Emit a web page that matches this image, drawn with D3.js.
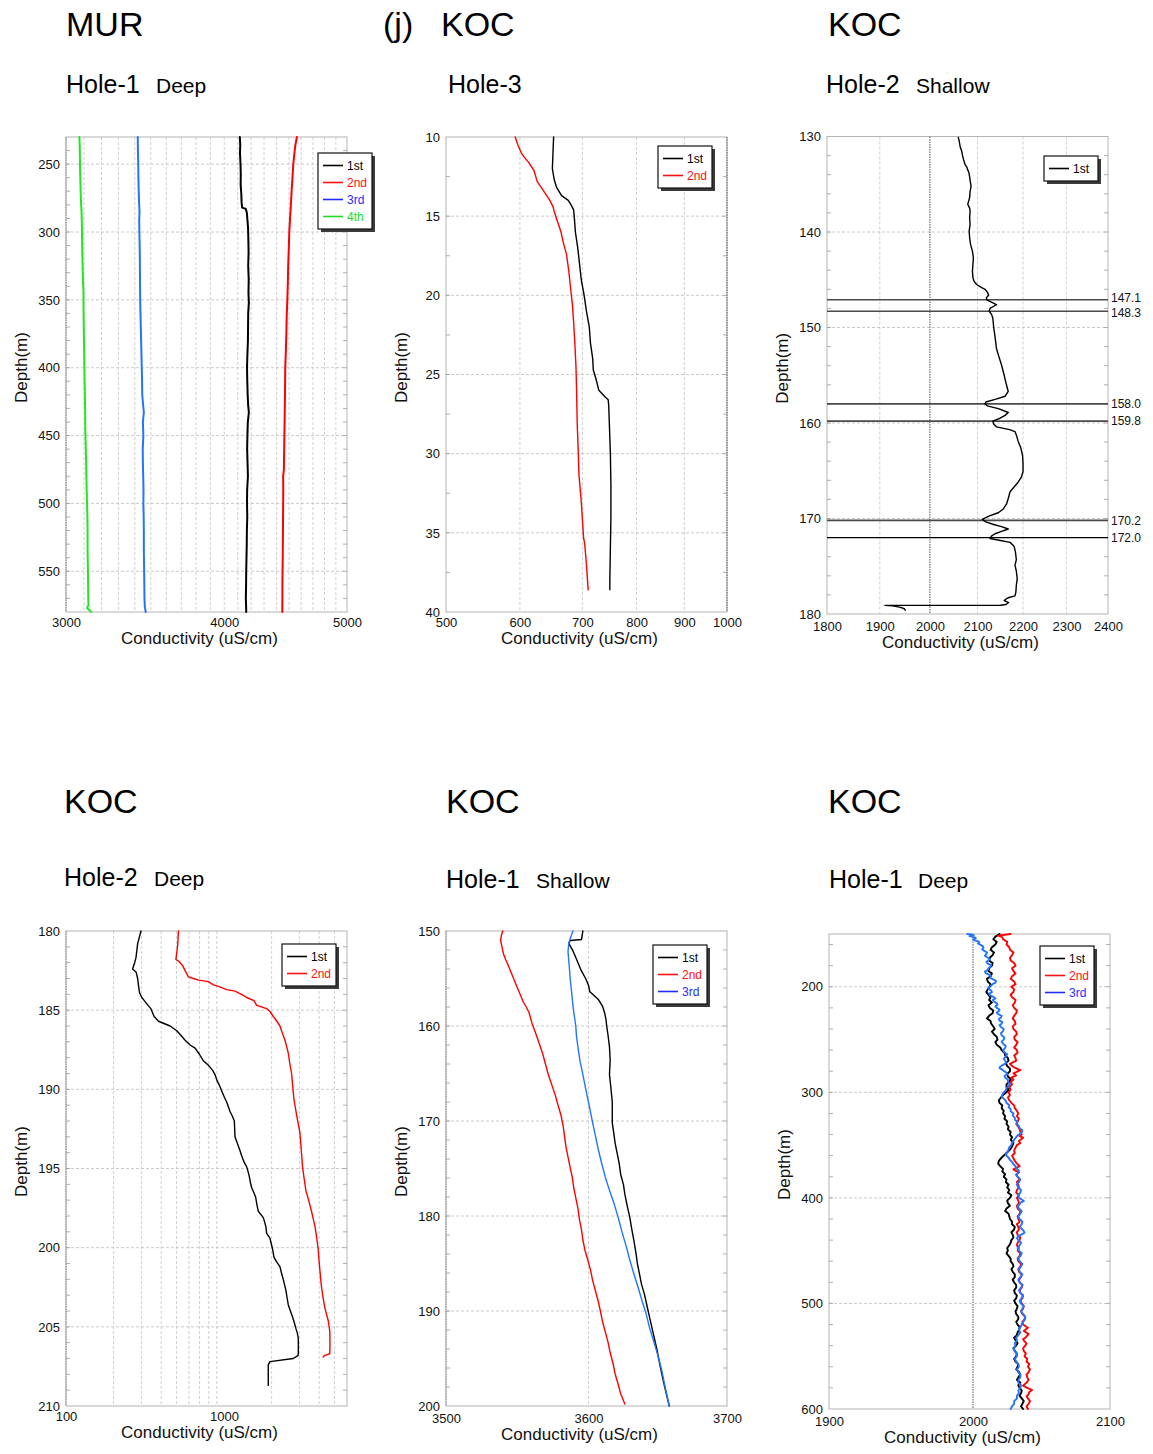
<!DOCTYPE html>
<html>
<head>
<meta charset="utf-8">
<script src="https://cdn.jsdelivr.net/npm/d3@7"></script>
<style>
  body { margin: 0; background: #fff; }
  svg { display: block; }
  text { font-family: "Liberation Sans", Arial, Helvetica, sans-serif; }
</style>
</head>
<body>
<svg id="fig" width="1153" height="1454"></svg>
<script>
// ---------- Conductivity profiles: [depth (m), conductivity (uS/cm)] ----------

// MUR Hole-1 Deep
const murDeep1st = [[230,4115],[236,4118],[242,4116],[250,4120],[258,4122],[265,4121],[272,4126],[278,4128],[282,4132],[283,4160],[286,4168],[291,4172],[297,4177],[305,4179],[315,4181],[325,4178],[335,4182],[345,4180],[352,4183],[360,4178],[370,4177],[380,4176],[390,4172],[400,4169],[410,4171],[420,4174],[428,4178],[433,4183],[440,4175],[450,4172],[460,4170],[470,4173],[480,4176],[490,4170],[500,4169],[510,4171],[520,4168],[530,4167],[540,4165],[550,4163],[560,4162],[570,4160],[575,4162],[580,4163]];
const murDeep2nd = [[230,4565],[236,4552],[242,4544],[250,4535],[260,4528],[270,4521],[280,4515],[290,4508],[300,4502],[312,4498],[325,4493],[338,4490],[350,4486],[362,4481],[375,4478],[388,4474],[400,4469],[412,4468],[425,4466],[438,4464],[450,4462],[462,4460],[475,4458],[480,4452],[490,4453],[500,4452],[512,4451],[525,4450],[538,4449],[550,4447],[560,4446],[570,4446],[580,4445]];
const murDeep3rd = [[230,3418],[240,3419],[250,3421],[260,3422],[270,3424],[278,3426],[285,3429],[292,3427],[300,3428],[310,3430],[320,3431],[335,3432],[350,3433],[360,3435],[370,3437],[385,3440],[400,3443],[410,3445],[420,3446],[428,3452],[433,3456],[440,3450],[450,3453],[460,3449],[470,3450],[480,3452],[490,3454],[500,3453],[510,3455],[520,3456],[535,3456],[550,3458],[560,3459],[570,3460],[576,3462],[580,3468]];
const murDeep4th = [[230,3074],[238,3076],[246,3077],[255,3078],[265,3080],[275,3082],[285,3086],[295,3088],[305,3089],[315,3090],[325,3092],[335,3094],[345,3097],[355,3097],[365,3098],[375,3099],[390,3101],[400,3102],[415,3104],[430,3106],[445,3107],[460,3110],[470,3112],[480,3113],[490,3115],[500,3117],[510,3119],[520,3120],[535,3120],[550,3122],[560,3123],[570,3124],[575,3125],[577,3117],[579,3134],[580,3140]];

// KOC Hole-3
const kocH3_1st = [[10,652],[11,651],[12,650],[12.7,653],[13.2,657],[13.7,665],[14.0,676],[14.3,681],[14.6,685],[15,686],[16,688],[17,692],[18,695],[19,698],[20,703],[21,707],[22,712],[23,714],[24,718],[24.7,719],[25.3,724],[26,729],[26.4,740],[26.6,746],[27,747],[28,748],[29,749],[30,750],[32,751],[34,751],[36,750],[38,749],[38.6,749]];
const kocH3_2nd = [[10,593],[10.5,597],[11,602],[11.3,607],[11.6,613],[12.1,621],[12.5,624],[12.8,626],[13.1,631],[13.4,636],[13.7,641],[14.0,646],[14.4,651],[14.7,653],[15.3,658],[16.0,664],[16.7,668],[17.4,673],[18.5,677],[19.6,680],[20.6,683],[21.7,685],[23,687],[24.5,689],[26,690],[28,691],[30,693],[31.3,694],[33,698],[35.3,702],[35.7,704],[37,707],[38.6,710]];

// KOC Hole-2 Shallow
const kocH2Shallow1st = [[130.1,2059],[130.5,2061],[131.1,2063],[131.5,2066],[132.0,2068],[132.4,2070],[132.9,2073],[133.2,2077],[133.5,2079],[133.7,2081],[134.2,2083],[134.6,2084],[135.2,2086],[135.8,2084],[136.4,2083],[137.1,2079],[137.5,2083],[137.8,2084],[138.5,2083],[139.2,2084],[139.9,2082],[140.6,2083],[141.3,2085],[142.0,2089],[142.7,2091],[143.4,2090],[144.1,2089],[144.8,2090],[145.2,2093],[145.5,2098],[145.8,2108],[146.0,2116],[146.3,2121],[146.6,2124],[146.9,2119],[147.1,2120],[147.35,2130],[147.6,2141],[147.8,2134],[148.0,2127],[148.3,2125],[148.6,2130],[149.0,2133],[150,2135],[151,2138],[152.2,2141],[153,2146],[153.9,2152],[155,2158],[156.0,2163],[156.7,2167],[157.2,2160],[157.5,2140],[157.8,2118],[158.0,2116],[158.2,2121],[158.5,2145],[158.9,2167],[159.2,2160],[159.5,2149],[159.8,2133],[160.1,2135],[160.4,2141],[160.7,2170],[160.9,2182],[161.4,2186],[161.9,2189],[162.6,2195],[163.4,2199],[164.2,2200],[165.1,2200],[165.7,2196],[166.2,2189],[166.7,2180],[167.2,2171],[167.9,2167],[168.5,2163],[169.0,2156],[169.4,2145],[169.7,2127],[170.1,2110],[170.35,2118],[170.6,2133],[170.85,2152],[171.1,2167],[171.35,2152],[171.6,2138],[171.85,2130],[172.1,2127],[172.3,2150],[172.5,2171],[172.9,2180],[173.5,2183],[174.3,2185],[174.9,2182],[175.5,2185],[176.3,2187],[177.0,2185],[177.7,2184],[178.1,2182],[178.3,2167],[178.4,2163],[178.6,2158],[178.8,2168],[179.0,2162],[179.08,2150],[179.1,1910],[179.15,1925],[179.3,1941],[179.45,1948],[179.6,1950]];
const kocH2ShallowMarks = [147.1, 148.3, 158.0, 159.8, 170.2, 172.0];

// KOC Hole-2 Deep
const kocH2Deep1st = [[180,298],[180.4,291],[180.8,284],[181.2,281],[181.7,277],[182.0,272],[182.2,268],[182.4,264],[182.6,278],[183.0,284],[183.5,288],[183.9,292],[184.2,302],[184.4,313],[184.6,325],[184.9,344],[185.2,354],[185.4,361],[185.7,385],[186.0,456],[186.3,502],[186.6,535],[186.9,567],[187.2,610],[187.4,656],[187.8,700],[188.2,740],[188.5,800],[188.8,848],[189.1,880],[189.4,899],[189.8,940],[190.1,967],[190.5,1005],[190.8,1039],[191.1,1065],[191.4,1091],[191.7,1130],[192.0,1162],[192.5,1168],[193.0,1173],[193.4,1214],[193.8,1255],[194.2,1293],[194.6,1340],[194.9,1391],[195.2,1420],[195.5,1445],[195.9,1470],[196.2,1495],[196.5,1540],[196.8,1585],[197.3,1615],[197.7,1648],[198.1,1772],[198.4,1810],[198.7,1842],[199.1,1860],[199.4,1952],[199.8,1995],[200.1,2029],[200.6,2069],[200.9,2151],[201.2,2258],[201.6,2310],[202.0,2370],[202.3,2410],[202.7,2464],[203.1,2500],[203.6,2549],[203.9,2610],[204.2,2676],[204.6,2760],[205.1,2849],[205.4,2910],[205.7,2948],[206.2,2955],[206.8,2948],[207.0,2741],[207.2,1952],[207.4,1905],[208.0,1905],[208.7,1905]];
const kocH2Deep2nd = [[180,515],[180.4,512],[180.8,510],[181.2,505],[181.7,497],[181.8,496],[181.9,515],[182.2,548],[182.5,567],[182.9,595],[183.0,640],[183.1,689],[183.2,796],[183.4,856],[183.5,921],[183.7,1039],[183.8,1173],[184.0,1290],[184.2,1391],[184.4,1547],[184.7,1608],[184.9,1860],[185.1,1960],[185.4,2049],[185.7,2160],[186.0,2258],[186.5,2350],[186.9,2429],[187.3,2490],[187.7,2549],[188.3,2600],[189.0,2676],[189.8,2720],[190.6,2768],[191.1,2820],[191.6,2877],[192.2,2950],[192.7,3020],[193.8,3080],[194.9,3140],[195.6,3210],[196.4,3296],[197.0,3430],[197.7,3579],[198.2,3670],[198.6,3756],[199.3,3850],[200.1,3943],[200.8,3990],[201.4,4040],[202.0,4090],[202.5,4140],[203.2,4240],[203.8,4345],[204.2,4450],[204.6,4560],[205.0,4630],[205.3,4670],[206.0,4680],[206.7,4670],[206.8,4345],[206.9,4240]];

// KOC Hole-1 Shallow
const kocH1Shallow1st = [[150.0,3596],[150.5,3595.5],[150.9,3595],[151.0,3587],[151.3,3586],[151.7,3587.5],[152.1,3589],[152.8,3591],[153.5,3593],[154.2,3595],[155.0,3598],[155.7,3600],[156.4,3601],[156.8,3604],[157.2,3607],[157.9,3610],[158.6,3611.5],[159.3,3612.5],[160.0,3613],[161.0,3614],[162.2,3615],[163.6,3615.5],[165.1,3615],[166.5,3616],[168.0,3617],[169.1,3617],[170.2,3617],[171.2,3618],[172.3,3619],[173.4,3620.5],[174.5,3622],[175.6,3623],[176.7,3625],[177.7,3626],[178.8,3627.5],[180.1,3629.5],[181.4,3631],[182.6,3632.5],[183.9,3634],[185.0,3635],[186.1,3636.5],[187.2,3638],[188.2,3640],[189.5,3642],[190.8,3644],[192.4,3646.5],[194.0,3649],[195.5,3651],[196.9,3653],[198.5,3655.5],[200.0,3658]];
const kocH1Shallow2nd = [[150.0,3539.5],[150.5,3538.5],[151.0,3538],[151.7,3539],[152.4,3540],[153.0,3541.5],[153.5,3543],[154.6,3546],[155.7,3549],[156.6,3551.5],[157.5,3554],[158.0,3556],[158.6,3558],[159.7,3560],[160.7,3562.5],[161.8,3565],[162.9,3567.5],[164.0,3569.5],[165.1,3571.5],[166.2,3574],[167.3,3576.5],[168.4,3578.5],[169.4,3580.5],[170.5,3582],[171.6,3583],[172.7,3584],[173.8,3585.5],[174.9,3587],[175.9,3588.5],[177.0,3589.5],[178.1,3591],[179.2,3592.5],[180.3,3593.5],[181.4,3595],[182.5,3596],[183.6,3597.5],[184.6,3599.5],[185.7,3601.5],[186.8,3603],[187.9,3605],[189.0,3607],[190.0,3608.5],[191.1,3610],[192.2,3612],[193.3,3614],[194.4,3615.5],[195.5,3617.5],[196.6,3619],[197.6,3621],[198.7,3623],[199.8,3626]];
const kocH1Shallow3rd = [[150.0,3589],[150.6,3587.5],[151.3,3586],[152.2,3585.5],[153.1,3586],[154.0,3586.5],[155.0,3587],[156.4,3588],[157.9,3589],[159.0,3590],[160.0,3591],[161.1,3591.5],[162.2,3592.5],[163.7,3594],[165.1,3596],[166.6,3598],[168.0,3600],[169.1,3601.5],[170.2,3603],[171.6,3605],[173.0,3607],[174.5,3609.5],[175.9,3612],[177.3,3615],[178.8,3618.5],[180.3,3621.5],[181.7,3624],[183.2,3627],[184.6,3629.5],[186.1,3632.5],[187.5,3635.5],[189.0,3638.5],[190.4,3641.5],[191.9,3644],[193.3,3647],[194.8,3650],[196.2,3652.5],[198.0,3655],[200.0,3658]];

// KOC Hole-1 Deep
const kocH1Deep1st = [[150,2019],[152.5,2016],[155,2014.5],[157.5,2017],[160,2016],[162.5,2013.5],[165,2012.5],[167.5,2015],[170,2014],[172.5,2012],[175,2011.5],[177.5,2014],[180,2013.5],[182.5,2011.5],[185,2011],[187.5,2013.5],[190,2012.5],[192.5,2010],[195,2010.5],[197.5,2012.5],[200,2012],[202.5,2010.5],[205,2009.5],[207.5,2011],[210,2012.5],[212.5,2011.5],[215,2013.5],[217.5,2011],[220,2012],[222.5,2014.5],[225,2014],[227.5,2011.5],[230,2010],[232.5,2012.5],[235,2013],[237.5,2014.5],[240,2015.5],[242.5,2013.5],[245,2015],[247.5,2017],[250,2017.5],[252.5,2016],[255,2017],[257.5,2019.5],[260,2020.5],[262.5,2022.5],[265,2023],[267.5,2025],[270,2025.5],[272.5,2023.5],[275,2024.5],[277.5,2026.5],[280,2026.5],[282.5,2024.5],[285,2025],[287.5,2027],[290,2026],[292.5,2024],[295,2024],[297.5,2025.5],[300,2024],[302.5,2021.5],[305,2020],[307.5,2018.5],[310,2019],[312.5,2021],[315,2020.5],[317.5,2022],[320,2021.5],[322.5,2023],[325,2022.5],[327.5,2024.5],[330,2024],[332.5,2025.5],[335,2025],[337.5,2027],[340,2026.5],[342.5,2028],[345,2027],[347.5,2029],[350,2028.5],[352.5,2027.5],[355,2026],[357.5,2024],[360,2022],[362.5,2020],[365,2018.5],[367.5,2018],[370,2019.5],[372.5,2021.5],[375,2021],[377.5,2023],[380,2022],[382.5,2024],[385,2023.5],[387.5,2025.5],[390,2024.5],[392.5,2026],[395,2025],[397.5,2027.5],[400,2026.5],[402.5,2024.5],[405,2025],[407.5,2026.5],[410,2024],[412.5,2023],[415,2025.5],[417.5,2026],[420,2026.5],[422.5,2028],[425,2028],[427.5,2030],[430,2029.5],[432.5,2027.5],[435,2028.5],[437.5,2029],[440,2027.5],[442.5,2027],[445,2026],[447.5,2024.5],[450,2025],[452.5,2024],[455,2025.5],[457.5,2027],[460,2027],[462.5,2028.5],[465,2029],[467.5,2027.5],[470,2028.5],[472.5,2030],[475,2030],[477.5,2028.5],[480,2029.5],[482.5,2031],[485,2031],[487.5,2029.5],[490,2030],[492.5,2031.5],[495,2031],[497.5,2029.5],[500,2030.5],[502.5,2032],[505,2031.5],[507.5,2030.5],[510,2031],[512.5,2032.5],[515,2032.5],[517.5,2031],[520,2032],[522.5,2033.5],[525,2033],[527.5,2032],[530,2031.5],[532.5,2029.5],[535,2030.5],[537.5,2032],[540,2031],[542.5,2029],[545,2030],[547.5,2031.5],[550,2031],[552.5,2029.5],[555,2030.5],[557.5,2032.5],[560,2032],[562.5,2031],[565,2033],[567.5,2034],[570,2032.5],[572.5,2031.5],[575,2034],[577.5,2032.5],[580,2033.5],[582.5,2035],[585,2034.5],[587.5,2033.5],[590,2035],[592.5,2036.5],[595,2035.5],[597.5,2034.5],[600,2036]];
const kocH1Deep2nd = [[150,2027],[151.5,2018],[153,2021],[155,2021.5],[157.5,2024.5],[160,2024],[162.5,2026],[165,2026.5],[167.5,2029],[170,2028],[172.5,2026.5],[175,2027],[177.5,2029.5],[180,2030.5],[182.5,2028],[185,2029],[187.5,2030.5],[190,2028],[192.5,2027],[195,2029.5],[197.5,2030.5],[200,2027.5],[202.5,2029.5],[205,2029],[207.5,2027],[210,2028],[212.5,2030.5],[215,2030],[217.5,2028.5],[220,2029.5],[222.5,2031.5],[225,2031],[227.5,2029.5],[230,2028.5],[232.5,2030],[235,2030.5],[237.5,2028.5],[240,2029],[242.5,2031],[245,2031.5],[247.5,2029.5],[250,2030],[252.5,2032],[255,2031],[257.5,2029.5],[260,2031.5],[262.5,2032],[265,2029.5],[267.5,2030.5],[270,2031],[273,2026.5],[276,2029],[279,2034],[282,2029],[284,2031],[286,2027.5],[288,2029],[290,2027],[292.5,2028],[295,2026],[297.5,2027],[300,2025.5],[302.5,2026.5],[305,2025],[307.5,2026],[310,2027.5],[312.5,2029.5],[315,2030],[317.5,2031.5],[320,2032.5],[322.5,2031.5],[325,2033],[327.5,2032],[330,2031],[332.5,2032.5],[335,2033.5],[337.5,2034],[340,2035],[341.5,2033.5],[343,2036],[346,2033],[348,2034],[350,2031.5],[352.5,2030.5],[355,2029.5],[357.5,2030],[360,2028],[362.5,2029],[365,2030],[367.5,2031.5],[370,2033.5],[371.5,2031],[373,2029],[376,2033],[378,2031],[380,2032],[382.5,2033.5],[385,2031.5],[387.5,2032.5],[390,2033],[392.5,2031.5],[395,2031],[397.5,2033],[400,2031.5],[402.5,2032.5],[405,2033],[407.5,2031.5],[410,2032],[412.5,2034],[415,2033.5],[417.5,2032],[420,2032.5],[422.5,2033.5],[425,2031.5],[427.5,2032.5],[430,2033],[432.5,2031.5],[435,2032],[437.5,2034],[440,2033.5],[442.5,2032],[445,2031.5],[447.5,2033],[450,2032],[452.5,2034],[455,2033.5],[457.5,2032],[460,2032.5],[462.5,2034.5],[465,2034],[467.5,2032.5],[470,2033],[472.5,2035],[475,2034.5],[477.5,2033],[480,2033.5],[482.5,2035.5],[485,2035],[487.5,2033.5],[490,2034],[492.5,2036],[495,2035.5],[497.5,2034],[500,2035],[502.5,2036.5],[505,2036],[507.5,2034.5],[510,2035.5],[512.5,2037.5],[515,2037],[517.5,2035.5],[520,2036],[523,2039.5],[526,2036.5],[529,2040],[532,2038],[534,2036],[536,2037],[538,2038.5],[540,2037.5],[542.5,2036],[545,2036.5],[547.5,2038],[550,2037],[552.5,2039],[555,2038.5],[557.5,2040.5],[560,2039.5],[562.5,2041],[565,2040],[567.5,2038.5],[570,2039],[572.5,2040],[575,2038.5],[578,2036],[580,2039],[582,2042.5],[584,2040.5],[586,2040],[588,2038.5],[590,2039.5],[592.5,2041],[595,2040],[597.5,2038.5],[600,2039.5]];
const kocH1Deep3rd = [[150,1996],[151,2000.5],[152,1997.5],[153,2001],[154,2002],[155,2000],[156,2001],[157,2004],[158,2004.5],[159,2003.5],[160,2005],[161.5,2007],[163,2007.5],[164.5,2006.5],[166,2008],[167.5,2010],[169,2009.5],[170.5,2008.5],[172,2010],[173.5,2012],[175,2011],[176.5,2009.5],[178,2010.5],[179.5,2013],[181,2012.5],[182.5,2011],[184,2010.5],[185.5,2008.5],[187,2009],[188.5,2011.5],[190,2013],[191.5,2012],[193,2014.5],[194.5,2016.5],[196,2016],[197.5,2014],[199,2013],[200.5,2011],[202,2011],[203.5,2013],[205,2013.5],[206.5,2011.5],[208,2012],[209.5,2014.5],[211,2016],[212.5,2014],[214,2015],[215.5,2017],[217,2017.5],[218.5,2016],[220,2017],[221.5,2019],[223,2018.5],[224.5,2017],[226,2018],[227.5,2020.5],[229,2020],[230.5,2018.5],[232,2019],[233.5,2021],[235,2020.5],[236.5,2019],[238,2020],[240,2022],[242,2021.5],[244,2020],[246,2020.5],[248,2022.5],[250,2022],[252,2020.5],[254,2021.5],[256,2023.5],[258,2023],[260,2021.5],[262,2022.5],[264,2024.5],[266,2023.5],[268,2022],[270,2023],[272,2024],[274,2021.5],[275.5,2019.5],[277,2019],[278.5,2021],[280,2022.5],[281.5,2024],[283,2024.5],[284.5,2022.5],[286,2023],[288,2025],[290,2025],[292,2026.5],[294,2025.5],[296,2024],[298,2023.5],[300,2022],[302,2021],[304,2020.5],[306,2022],[308,2023.5],[310,2024],[312,2026],[314,2025.5],[316,2027],[318,2027],[320,2029],[322,2028.5],[324,2030],[326,2030],[328,2032],[330,2031.5],[332,2033],[334,2033.5],[336,2035.5],[338,2035],[339.5,2033.5],[341,2032],[342.5,2031],[344,2030],[346,2029],[348,2028],[350,2027.5],[352,2026],[354,2025.5],[356,2025],[358,2023.5],[360,2024],[362,2025.5],[364,2026.5],[366,2028],[368,2029],[370,2030.5],[372,2031],[374,2033],[376,2032.5],[378,2031],[380,2032],[382.5,2034],[385,2033],[387.5,2031.5],[390,2032.5],[392.5,2034.5],[395,2034],[397.5,2032.5],[400,2033],[401.5,2035],[403,2036.5],[404.5,2034],[406,2033.5],[408,2032],[410,2033],[412.5,2035],[415,2034],[417.5,2032.5],[420,2033.5],[422.5,2035.5],[425,2035],[427.5,2033.5],[430,2035.5],[431.5,2036.5],[433,2037],[434.5,2035],[436,2033],[438,2031.5],[440,2032.5],[442.5,2034.5],[445,2033.5],[447.5,2032],[450,2033],[452.5,2035],[455,2034],[457.5,2032.5],[460,2033.5],[462.5,2035.5],[465,2034.5],[467.5,2033],[470,2033.5],[472.5,2035.5],[475,2034],[477.5,2032.5],[480,2033.5],[482.5,2035.5],[485,2034.5],[487.5,2033],[490,2034],[492.5,2036],[495,2035],[497.5,2033.5],[500,2034.5],[502.5,2036.5],[505,2035.5],[507.5,2034.5],[510,2036],[512.5,2037.5],[515,2037.5],[517.5,2036],[520,2035],[522.5,2034],[525,2033],[527.5,2034],[530,2032.5],[532.5,2031],[535,2031.5],[537.5,2030],[540,2030.5],[542.5,2029],[545,2030],[547.5,2031.5],[550,2031.5],[552.5,2030],[555,2031],[557.5,2032.5],[560,2033],[562.5,2031.5],[565,2032.5],[567.5,2034],[570,2034],[572.5,2032.5],[575,2032.5],[577.5,2034.5],[580,2034],[582.5,2032.5],[585,2033],[587.5,2031.5],[590,2031.5],[592.5,2029.5],[595,2029.5],[597.5,2028],[600,2027]];

// ---------- Axis ticks ----------
const murCondTicks = [3000, 4000, 5000];
const murDepthTicks = [250, 300, 350, 400, 450, 500, 550];
const kocH3CondTicks = [500, 600, 700, 800, 900, 1000];
const kocH3DepthTicks = [10, 15, 20, 25, 30, 35, 40];
const kocH2ShallowCondTicks = [1800, 1900, 2000, 2100, 2200, 2300, 2400];
const kocH2ShallowDepthTicks = [130, 140, 150, 160, 170, 180];
const kocH2DeepCondTicks = [100, 1000];
const kocH2DeepDepthTicks = [180, 185, 190, 195, 200, 205, 210];
const kocH1ShallowCondTicks = [3500, 3600, 3700];
const kocH1ShallowDepthTicks = [150, 160, 170, 180, 190, 200];
const kocH1DeepCondTicks = [1900, 2000, 2100];
const kocH1DeepDepthTicks = [200, 300, 400, 500, 600];

// ---------- Styling ----------
const FONT = '"Liberation Sans", Arial, Helvetica, sans-serif';
const RUN_COLOR = { "1st": "#000000", "2nd": "#ff0000", "3rd": "#2274ff", "4th": "#22e622" };
const KEY_COLOR = { "1st": "#000000", "2nd": "#ff1010", "3rd": "#1f2cff", "4th": "#22dd22" };

const svg = d3.select("#fig");

function range(a, b, s) { const out = []; for (let v = a; v <= b + 1e-9; v += s) out.push(+v.toFixed(6)); return out; }

function drawPanel(p) {
  const g = svg.append("g");
  const x = d3.scaleLog().domain(p.xDomain).range([p.left, p.right]);
  const y = d3.scaleLinear().domain(p.yDomain).range([p.top, p.bottom]);

  // light dashed grid
  g.selectAll(null).data(p.xGrid).join("line")
    .attr("x1", d => x(d)).attr("x2", d => x(d))
    .attr("y1", p.top).attr("y2", p.bottom)
    .attr("stroke", "#c4c4c4").attr("stroke-width", 0.8).attr("stroke-dasharray", "3,2");
  g.selectAll(null).data(p.yGrid).join("line")
    .attr("x1", p.left).attr("x2", p.right)
    .attr("y1", d => y(d)).attr("y2", d => y(d))
    .attr("stroke", "#bdbdbd").attr("stroke-width", 0.8).attr("stroke-dasharray", "3,2");

  // frame
  g.append("rect")
    .attr("x", p.left).attr("y", p.top)
    .attr("width", p.right - p.left).attr("height", p.bottom - p.top)
    .attr("fill", "none").attr("stroke", "#b4b4b4").attr("stroke-width", 1);

  // darker dotted reference lines
  g.selectAll(null).data(p.xDark || []).join("line")
    .attr("x1", d => x(d)).attr("x2", d => x(d))
    .attr("y1", p.top).attr("y2", p.bottom)
    .attr("stroke", "#7a7a7a").attr("stroke-width", 1.3).attr("stroke-dasharray", "1.5,1");
  if (p.leftDotted) {
    g.append("line").attr("x1", p.left).attr("x2", p.left).attr("y1", p.top).attr("y2", p.bottom)
      .attr("stroke", "#8a8a8a").attr("stroke-width", 1).attr("stroke-dasharray", "1.5,1");
  }

  // minor ticks on inner left/right edges
  g.selectAll(null).data(p.yMinor).join("path")
    .attr("d", d => `M${p.left},${y(d)}h4M${p.right},${y(d)}h-4`)
    .attr("stroke", "#9a9a9a").attr("stroke-width", 0.8);

  // axes
  const xPad = p.xPad || 6;
  const xa = g.append("g").attr("transform", `translate(0,${p.bottom})`)
    .call(d3.axisBottom(x).tickValues(p.xTicks).tickFormat(d3.format("d")).tickSize(0).tickPadding(xPad));
  const ya = g.append("g").attr("transform", `translate(${p.left},0)`)
    .call(d3.axisLeft(y).tickValues(p.yTicks).tickFormat(d3.format("d")).tickSize(0).tickPadding(6));
  [xa, ya].forEach(a => {
    a.select(".domain").remove();
    a.attr("font-family", FONT).attr("font-size", 13);
    a.selectAll("text").attr("fill", "#111");
  });

  // axis titles
  g.append("text")
    .attr("x", (p.left + p.right) / 2 - 7).attr("y", p.bottom + 26 + xPad)
    .attr("text-anchor", "middle").attr("font-size", 17).attr("fill", "#111")
    .text("Conductivity (uS/cm)");
  g.append("text")
    .attr("transform", `translate(${p.left - 39},${(p.top + p.bottom) / 2 - 7}) rotate(-90)`)
    .attr("text-anchor", "middle").attr("font-size", 17).attr("fill", "#111")
    .text("Depth(m)");

  // marker depths with labels (labels nudged apart when lines are close)
  const marks = p.marks || [];
  const labelY = marks.map(m => y(m));
  for (let i = 1; i < labelY.length; i++) {
    const gap = labelY[i] - labelY[i - 1];
    if (gap < 15) { const d = (15 - gap) / 2; labelY[i - 1] -= d; labelY[i] += d; }
  }
  marks.forEach((m, i) => {
    const last = i === marks.length - 1;
    g.append("line")
      .attr("x1", p.left).attr("x2", p.right).attr("y1", y(m)).attr("y2", y(m))
      .attr("stroke", last ? "#000" : "#4a4a4a").attr("stroke-width", last ? 1.1 : 1.6);
    g.append("text")
      .attr("x", p.right + 3).attr("y", labelY[i]).attr("dy", "0.35em")
      .attr("font-size", 12).attr("fill", "#111").text(d3.format(".1f")(m));
  });

  // profiles
  const line = d3.line().x(d => x(d[1])).y(d => y(d[0]));
  p.series.forEach(s => {
    g.append("path").datum(s.data)
      .attr("d", line).attr("fill", "none")
      .attr("stroke", RUN_COLOR[s.name]).attr("stroke-width", p.lineWidth)
      .attr("stroke-linejoin", "round").attr("stroke-linecap", "round");
  });

  // legend box with drop shadow
  const L = p.legend, n = p.series.length;
  const h = 17 * n + 8, w = 54;
  const lg = g.append("g").attr("transform", `translate(${L[0]},${L[1]})`);
  lg.append("rect").attr("x", 3).attr("y", 3).attr("width", w).attr("height", h).attr("fill", "#3a3a3a");
  lg.append("rect").attr("width", w).attr("height", h).attr("fill", "#fff").attr("stroke", "#111").attr("stroke-width", 1.2);
  p.series.forEach((s, i) => {
    const ry = 12.5 + 17 * i;
    lg.append("line").attr("x1", 5).attr("x2", 25).attr("y1", ry).attr("y2", ry)
      .attr("stroke", KEY_COLOR[s.name]).attr("stroke-width", 1.6);
    lg.append("text").attr("x", 29).attr("y", ry).attr("dy", "0.36em")
      .attr("font-size", 12).attr("fill", KEY_COLOR[s.name]).text(s.name);
  });
}

const panels = [
  { left: 66, right: 347, top: 137, bottom: 612, xDomain: [3000, 5000], yDomain: [230, 580],
    xTicks: murCondTicks, yTicks: murDepthTicks, xGrid: range(3100, 4900, 100), yGrid: range(250, 550, 50),
    yMinor: range(240, 570, 10), leftDotted: true, lineWidth: 2,
    series: [{ name: "1st", data: murDeep1st }, { name: "2nd", data: murDeep2nd }, { name: "3rd", data: murDeep3rd }, { name: "4th", data: murDeep4th }],
    legend: [318, 153] },
  { left: 446, right: 727, top: 137, bottom: 612, xDomain: [500, 1000], yDomain: [10, 40],
    xTicks: kocH3CondTicks, yTicks: kocH3DepthTicks, xGrid: [600, 700, 800, 900], yGrid: range(15, 35, 5),
    yMinor: range(12.5, 37.5, 2.5), xDark: [1000], lineWidth: 1.4,
    series: [{ name: "1st", data: kocH3_1st }, { name: "2nd", data: kocH3_2nd }],
    legend: [658, 146] },
  { left: 827, right: 1108, top: 136.5, bottom: 614, xDomain: [1800, 2400], yDomain: [130, 180],
    xTicks: kocH2ShallowCondTicks, yTicks: kocH2ShallowDepthTicks, xGrid: [1900, 2100, 2200, 2300], yGrid: range(140, 170, 10),
    yMinor: range(132, 178, 2), xDark: [2000], lineWidth: 1.4, marks: kocH2ShallowMarks, xPad: 8,
    series: [{ name: "1st", data: kocH2Shallow1st }],
    legend: [1044, 156] },
  { left: 66, right: 347, top: 931, bottom: 1406, xDomain: [100, 6000], yDomain: [180, 210],
    xTicks: kocH2DeepCondTicks, yTicks: kocH2DeepDepthTicks, xGrid: range(200, 900, 100).concat([2000, 3000, 4000, 5000]), yGrid: range(185, 205, 5),
    yMinor: range(181, 209, 1), leftDotted: true, lineWidth: 1.4,
    series: [{ name: "1st", data: kocH2Deep1st }, { name: "2nd", data: kocH2Deep2nd }],
    legend: [282, 944] },
  { left: 446, right: 727, top: 931, bottom: 1406, xDomain: [3500, 3700], yDomain: [150, 200],
    xTicks: kocH1ShallowCondTicks, yTicks: kocH1ShallowDepthTicks, xGrid: [3600], yGrid: range(160, 190, 10),
    yMinor: range(152, 198, 2), leftDotted: true, lineWidth: 1.4, xPad: 8,
    series: [{ name: "1st", data: kocH1Shallow1st }, { name: "2nd", data: kocH1Shallow2nd }, { name: "3rd", data: kocH1Shallow3rd }],
    legend: [653, 945] },
  { left: 829, right: 1110, top: 934, bottom: 1409, xDomain: [1900, 2100], yDomain: [150, 600],
    xTicks: kocH1DeepCondTicks, yTicks: kocH1DeepDepthTicks, xGrid: [], yGrid: range(200, 500, 100),
    yMinor: range(160, 580, 20), xDark: [2000], lineWidth: 1.9, xPad: 8,
    series: [{ name: "1st", data: kocH1Deep1st }, { name: "2nd", data: kocH1Deep2nd }, { name: "3rd", data: kocH1Deep3rd }],
    legend: [1040, 946] }
];
panels.forEach(drawPanel);

// ---------- Titles ----------
const titles = [
  { x: 66, y: 36, size: 34, text: "MUR" }, { x: 383, y: 36, size: 34, text: "(j)" },
  { x: 441, y: 36, size: 34, text: "KOC" }, { x: 828, y: 36, size: 34, text: "KOC" },
  { x: 66, y: 93, size: 25, text: "Hole-1" }, { x: 156, y: 93, size: 21, text: "Deep" },
  { x: 448, y: 93, size: 25, text: "Hole-3" },
  { x: 826, y: 93, size: 25, text: "Hole-2" }, { x: 916, y: 93, size: 21, text: "Shallow" },
  { x: 64, y: 813, size: 34, text: "KOC" }, { x: 446, y: 813, size: 34, text: "KOC" }, { x: 828, y: 813, size: 34, text: "KOC" },
  { x: 64, y: 886, size: 25, text: "Hole-2" }, { x: 154, y: 886, size: 21, text: "Deep" },
  { x: 446, y: 888, size: 25, text: "Hole-1" }, { x: 536, y: 888, size: 21, text: "Shallow" },
  { x: 829, y: 888, size: 25, text: "Hole-1" }, { x: 918, y: 888, size: 21, text: "Deep" }
];
svg.selectAll(null).data(titles).join("text")
  .attr("x", d => d.x).attr("y", d => d.y)
  .attr("font-size", d => d.size).attr("fill", "#000")
  .text(d => d.text);
</script>
</body>
</html>
